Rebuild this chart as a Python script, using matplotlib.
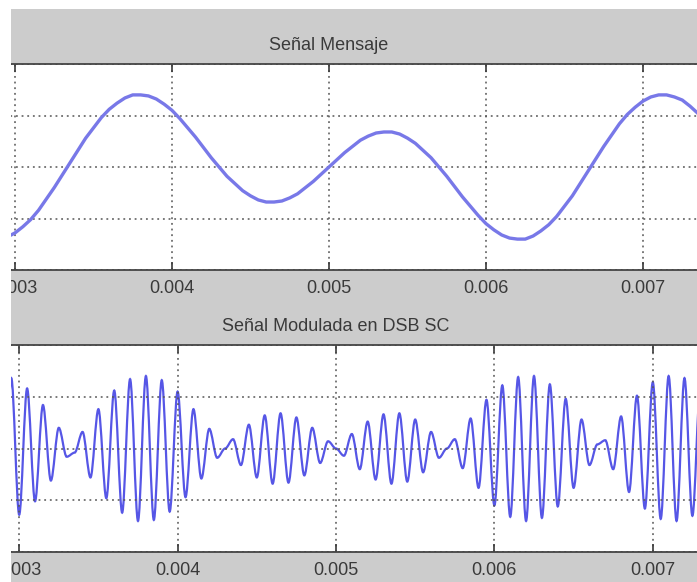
import numpy as np
import matplotlib
matplotlib.use("Agg")
import matplotlib.pyplot as plt
from matplotlib.path import Path
from matplotlib.patches import PathPatch, Rectangle

# muestras de la señal mensaje (cada 0.05 ms desde 0.0029 s)
t_inicio = 0.0029
paso = 0.00005
mensaje = [
    -0.70, -0.68, -0.64, -0.58, -0.51, -0.42, -0.31, -0.20, -0.08, 0.04, 0.16,
    0.28, 0.38, 0.48, 0.56, 0.62, 0.67, 0.70, 0.70, 0.69, 0.66,
    0.61, 0.55, 0.47, 0.38, 0.29, 0.19, 0.09, 0.00, -0.09, -0.16,
    -0.23, -0.28, -0.32, -0.34, -0.34, -0.33, -0.30, -0.26, -0.20, -0.14,
    -0.07, 0.00,
    0.07, 0.14, 0.20, 0.26, 0.30, 0.33, 0.34, 0.34, 0.32, 0.28,
    0.23, 0.16, 0.09, 0.00, -0.09, -0.19, -0.29, -0.38, -0.47, -0.55,
    -0.61, -0.66, -0.69, -0.70, -0.70, -0.67, -0.62, -0.56, -0.48, -0.38,
    -0.28, -0.16, -0.04, 0.08, 0.20, 0.31, 0.42, 0.51, 0.58, 0.64,
    0.68, 0.70, 0.70, 0.68, 0.65, 0.59, 0.52, 0.44,
]
fc = 10000  # portadora, 10 kHz

xticks = [0.003, 0.004, 0.005, 0.006, 0.007]
xlabels = ["0.003", "0.004", "0.005", "0.006", "0.007"]
yticks = [-1, -0.5, 0, 0.5, 1]
titulos = ["Señal Mensaje", "Señal Modulada en DSB SC"]

tiempo = t_inicio + paso * np.arange(len(mensaje))
# la portadora vale +1/-1 en cada muestra (medio periodo = 0.05 ms)
portadora = np.round(np.cos(2 * np.pi * fc * tiempo))
modulada = np.array(mensaje) * portadora

W, H = 697, 582
fig = plt.figure(figsize=(W / 100, H / 100), dpi=100, facecolor="#cccccc")
plt.rcParams["font.family"] = ["Liberation Sans", "DejaVu Sans"]

# posiciones en pixeles: (izq, arriba, der, abajo)
cajas = [(-63.5, 64, 721.5, 270), (-60, 345, 732, 552)]
ejes = []
for (x0, y0, x1, y1) in cajas:
    ax = fig.add_axes([x0 / W, 1 - y1 / H, (x1 - x0) / W, (y1 - y0) / H])
    ejes.append(ax)

linea = "#7878e8"
for i, ax in enumerate(ejes):
    ax.set_facecolor("white")
    ax.set_xlim(0.0025, 0.0075)
    ax.set_ylim(-1, 1)
    ax.set_xticks(xticks)
    ax.set_xticklabels(xlabels)
    ax.set_yticks(yticks)
    ax.set_yticklabels([])
    ax.grid(True, color="#555555", linestyle=(0, (1.2, 2.5)), linewidth=1.1)
    ax.tick_params(direction="in", length=6, width=1.2, top=True, right=True,
                   colors="#3a3a3a", labelsize=13, pad=7)
    for s in ax.spines.values():
        s.set_color("#444444")
        s.set_linewidth(1.3)
    ax.set_title(titulos[i], fontsize=13, color="#3a3a3a", pad=10)

ejes[0].plot(tiempo, mensaje, color=linea, linewidth=2.4)

# curva suave entre los extremos de la senal modulada
verts = [(tiempo[0], modulada[0])]
codes = [Path.MOVETO]
for k in range(1, len(tiempo)):
    a, b = tiempo[k - 1], tiempo[k]
    h = (b - a) / 3
    verts += [(a + h, modulada[k - 1]), (b - h, modulada[k]), (b, modulada[k])]
    codes += [Path.CURVE4] * 3
ejes[1].add_patch(PathPatch(Path(verts, codes), facecolor="none",
                            edgecolor="#5656e6", linewidth=1.6))

# bordes blancos de la captura
fig.add_artist(Rectangle((0, 0), 11 / W, 1, transform=fig.transFigure,
                         facecolor="white", edgecolor="none", zorder=10))
fig.add_artist(Rectangle((0, 1 - 9 / H), 1, 9 / H, transform=fig.transFigure,
                         facecolor="white", edgecolor="none", zorder=10))

fig.savefig("out.png", dpi=100, facecolor=fig.get_facecolor())
